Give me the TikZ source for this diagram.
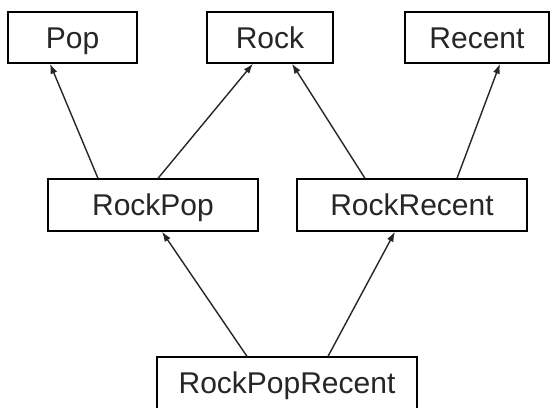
\documentclass[tikz,border=0pt]{standalone}
\usepackage{fontspec}
\setmainfont{Liberation Sans}
\usetikzlibrary{arrows.meta}
\begin{document}
\begin{tikzpicture}[x=1pt,y=-1pt,
  box/.style={draw=black,line width=1.3pt,rectangle,inner sep=0pt,
    font=\fontsize{30}{30}\selectfont,text height=21.5pt,text depth=0pt,
    text=black!85},
  arr/.style={draw=black!85,line width=1.4pt,-{Latex[length=10pt,width=7pt]}}]
\clip (0,0) rectangle (551,407);
\fill[white] (0,0) rectangle (551,407);
\node[box,minimum width=129pt,minimum height=51pt] (pop) at (72.5,37.5) {Pop};
\node[box,minimum width=126pt,minimum height=51pt] (rock) at (270,37.5) {Rock};
\node[box,minimum width=144pt,minimum height=51pt] (recent) at (477,37.5) {Recent};
\node[box,minimum width=210pt,minimum height=52pt] (rp) at (153,205) {RockPop};
\node[box,minimum width=230pt,minimum height=52pt] (rr) at (412,205) {RockRecent};
\node[box,minimum width=260pt,minimum height=52pt] (rpr) at (287,383) {RockPopRecent};
\draw[arr] ([xshift=-40pt]rpr.north) -- ([xshift=9pt]rp.south);
\draw[arr] ([xshift=41pt]rpr.north) -- ([xshift=-17pt]rr.south);
\draw[arr] ([xshift=-55pt]rp.north) -- ([xshift=-22.5pt]pop.south);
\draw[arr] ([xshift=5pt]rp.north) -- ([xshift=-17pt]rock.south);
\draw[arr] ([xshift=-47pt]rr.north) -- ([xshift=22pt]rock.south);
\draw[arr] ([xshift=45pt]rr.north) -- ([xshift=23pt]recent.south);
\end{tikzpicture}
\end{document}
